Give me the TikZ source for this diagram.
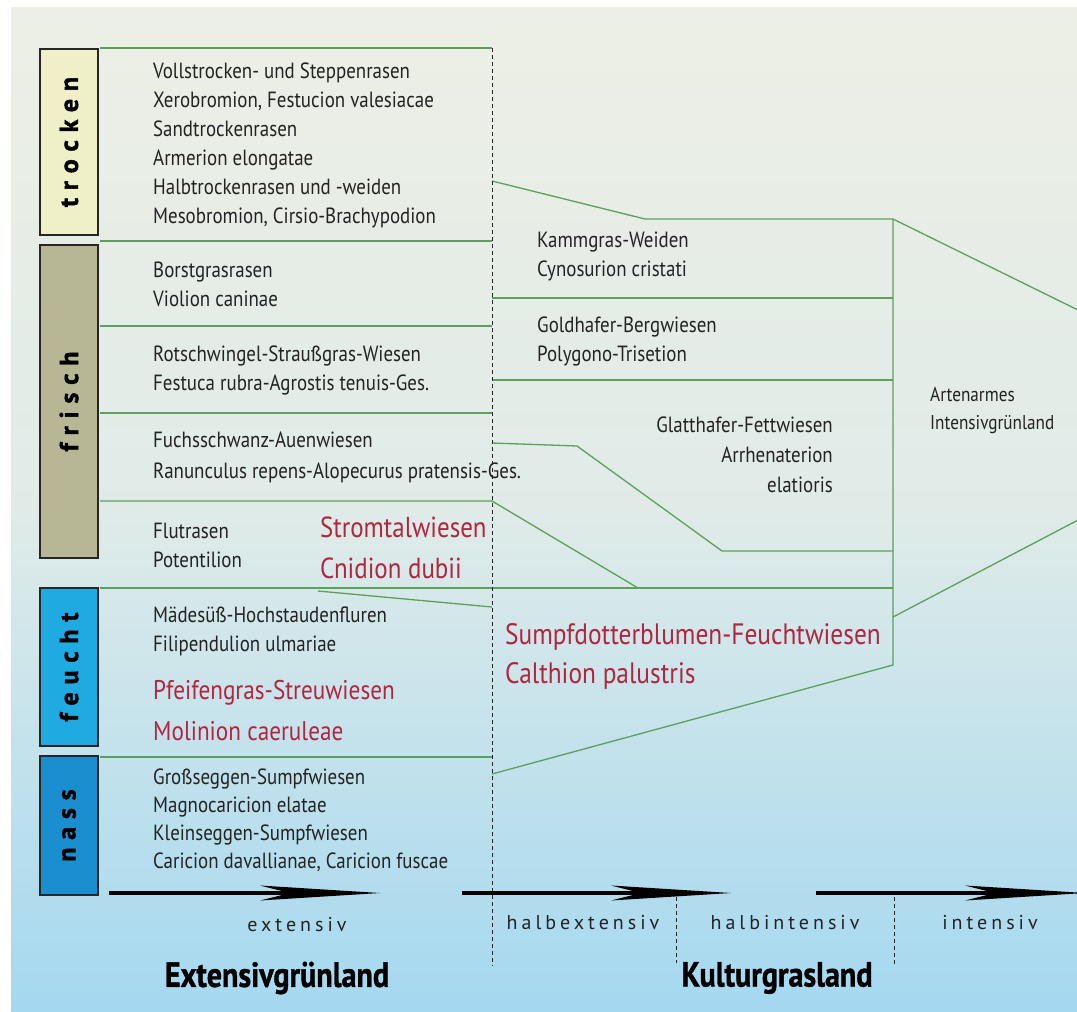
\documentclass[tikz,border=0pt]{standalone}
\usepackage{fontspec}
\setmainfont{PT Sans}[FakeStretch=0.86]
\newfontfamily\spacedfont{PT Sans}[LetterSpace=20]
\newfontfamily\barfont{PT Sans}[LetterSpace=30, BoldFeatures={FakeBold=1.5}]
\newfontfamily\headfont{PT Sans}[FakeStretch=0.86, BoldFeatures={FakeBold=1}]
\usetikzlibrary{arrows.meta}

\definecolor{bgtop}{RGB}{237,239,229}
\definecolor{bgmid}{RGB}{224,235,232}
\definecolor{bgbot}{RGB}{164,216,240}
\definecolor{zonegreen}{RGB}{92,160,92}
\definecolor{redtxt}{RGB}{176,38,62}
\definecolor{txtgrey}{RGB}{35,35,35}
\definecolor{trockenfill}{RGB}{240,240,200}
\definecolor{frischfill}{RGB}{183,183,150}
\definecolor{feuchtfill}{RGB}{32,170,226}
\definecolor{nassfill}{RGB}{26,142,206}

\tikzset{
  zone/.style={draw=zonegreen, line width=1.3pt},
  border/.style={draw=black!85, line width=0.9pt, dash pattern=on 4pt off 3pt},
  barbox/.style={draw=black!85, line width=1.5pt, rotate=90, minimum height=58pt, inner sep=0pt,
    font=\barfont\bfseries\fontsize{26}{26}\selectfont},
  cell/.style={anchor=west, align=left, inner sep=0pt, text=txtgrey, font=\fontsize{22}{29}\selectfont},
  redcell/.style={cell, text=redtxt, font=\fontsize{29}{41}\selectfont},
  levellabel/.style={inner sep=0pt, text=txtgrey, font=\spacedfont\fontsize{20}{20}\selectfont},
  headlabel/.style={inner sep=0pt, font=\headfont\bfseries\fontsize{35}{35}\selectfont},
  intensity/.style={draw=black, line width=4pt, -{Stealth[length=120pt, width=15pt, inset=30pt, line width=0pt]}}
}

\begin{document}
\begin{tikzpicture}[x=1pt, y=-1pt]
\useasboundingbox (0,0) rectangle (1077,1012);
\fill[white] (0,0) rectangle (1077,1012);
\shade[top color=bgtop, bottom color=bgbot, middle color=bgmid] (11,7) rectangle (1077,1012);

\node[barbox, fill=trockenfill, minimum width=186pt] (trocken) at (69,142) {trocken};
\node[barbox, fill=frischfill, minimum width=313pt] (frisch) at (69,401.5) {frisch};
\node[barbox, fill=feuchtfill, minimum width=158pt] (feucht) at (69,667) {feucht};
\node[barbox, fill=nassfill, minimum width=139pt] (nass) at (69,825.5) {nass};

\draw[zone] (100,48) -- (492,48);
\draw[zone] (100,241) -- (492,241);
\draw[zone] (100,326) -- (492,326);
\draw[zone] (100,413) -- (492,413);
\draw[zone] (100,501) -- (492,501) -- (638,588);
\draw[zone] (100,588) -- (893,588);
\draw[zone] (318,591) -- (492,607);
\draw[zone] (100,757) -- (492,757);
\draw[zone] (492,181) -- (645,219) -- (893,219) -- (1080,311);
\draw[zone] (492,298) -- (893,298);
\draw[zone] (492,380) -- (893,380);
\draw[zone] (492,443) -- (577,446) -- (722,551) -- (893,551);
\draw[zone] (893,219) -- (893,665) -- (492,774);
\draw[zone] (893,617) -- (1080,519);

\draw[border] (492,48) -- (492,966);
\draw[border] (676,897) -- (676,963);
\draw[border] (894,897) -- (894,966);

\node[cell] (trockenrasen) at (153,145) {Vollstrocken- und Steppenrasen\\Xerobromion, Festucion valesiacae\\Sandtrockenrasen\\Armerion elongatae\\Halbtrockenrasen und -weiden\\Mesobromion, Cirsio-Brachypodion};
\node[cell] (borstgras) at (153,284) {Borstgrasrasen\\Violion caninae};
\node[cell] (rotschwingel) at (153,370.5) {Rotschwingel-Straußgras-Wiesen\\Festuca rubra-Agrostis tenuis-Ges.};
\node[cell, font=\fontsize{22}{31}\selectfont] (fuchsschwanz) at (153,457) {Fuchsschwanz-Auenwiesen\\Ranunculus repens-Alopecurus pratensis-Ges.};
\node[cell] (flutrasen) at (153,545.5) {Flutrasen\\Potentilion};
\node[redcell] (stromtal) at (320,547.5) {Stromtalwiesen\\Cnidion dubii};
\node[cell] (maedesuess) at (153,631.5) {Mädesüß-Hochstaudenfluren\\Filipendulion ulmariae};
\node[redcell, font=\fontsize{27}{41}\selectfont] (pfeifengras) at (153,710.5) {Pfeifengras-Streuwiesen\\Molinion caeruleae};
\node[cell, font=\fontsize{22}{28}\selectfont] (grossseggen) at (153,820) {Großseggen-Sumpfwiesen\\Magnocaricion elatae\\Kleinseggen-Sumpfwiesen\\Caricion davallianae, Caricion fuscae};

\node[cell] (kammgras) at (537,256) {Kammgras-Weiden\\Cynosurion cristati};
\node[cell] (goldhafer) at (537,341) {Goldhafer-Bergwiesen\\Polygono-Trisetion};
\node[cell, anchor=east, align=right, font=\fontsize{22}{30}\selectfont] (glatthafer) at (833,455) {Glatthafer-Fettwiesen\\Arrhenaterion\hspace{13pt}\\elatioris};
\node[cell, font=\fontsize{20}{28}\selectfont] (artenarm) at (930,411) {Artenarmes\\Intensivgrünland};
\node[redcell, font=\fontsize{29.5}{39}\selectfont] (sumpfdotter) at (505,656.5) {Sumpfdotterblumen-Feuchtwiesen\\Calthion palustris};

\coordinate (ext start) at (109,893);
\coordinate (ext end) at (380,893);
\coordinate (halb start) at (462,893);
\coordinate (halb end) at (731,893);
\coordinate (int start) at (816,893);
\coordinate (int end) at (1085,893);
\draw[intensity] (ext start) -- (ext end);
\draw[intensity] (halb start) -- (halb end);
\draw[intensity] (int start) -- (int end);

\node[levellabel] (extensiv) at (297,925) {extensiv};
\node[levellabel] (halbextensiv) at (583,923) {halbextensiv};
\node[levellabel] (halbintensiv) at (785,923) {halbintensiv};
\node[levellabel] (intensiv) at (990,923) {intensiv};

\node[headlabel] (extensivgruenland) at (277,978) {Extensivgrünland};
\node[headlabel] (kulturgrasland) at (777,978) {Kulturgrasland};
\end{tikzpicture}
\end{document}
